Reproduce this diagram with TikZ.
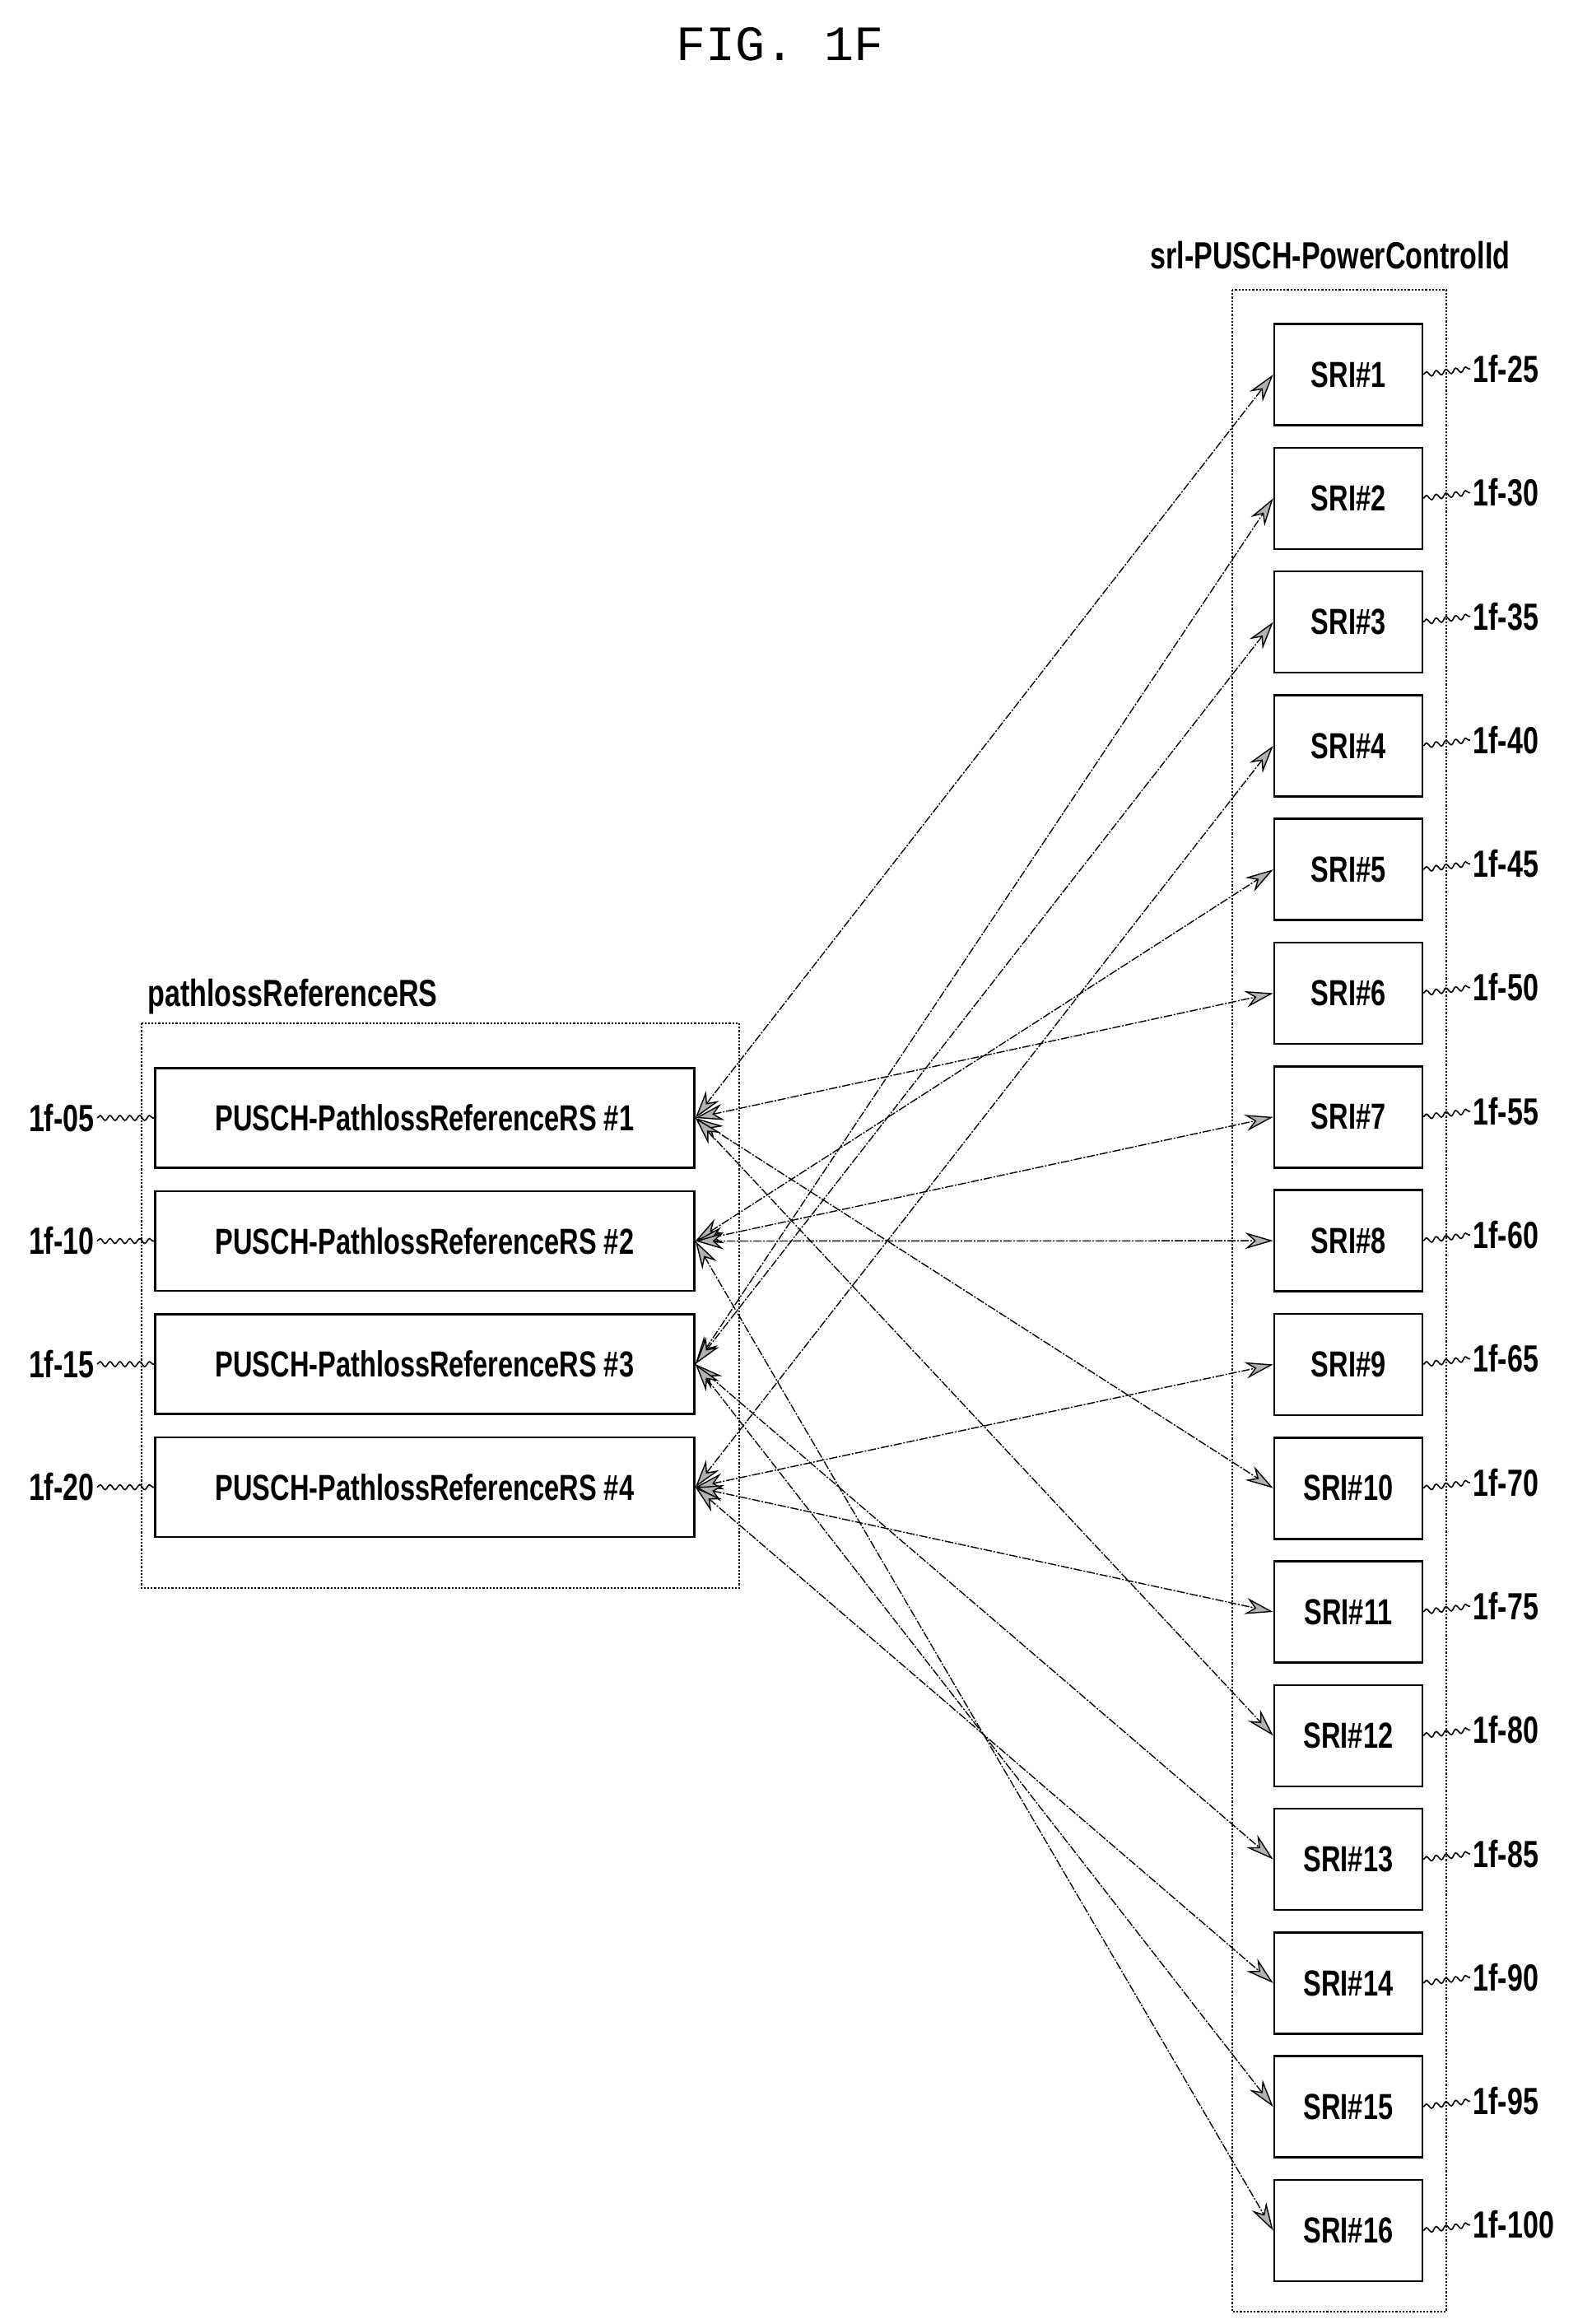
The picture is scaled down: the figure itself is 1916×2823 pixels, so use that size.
\documentclass[tikz,border=0pt]{standalone}
\usepackage{fontspec}
\setmainfont{Liberation Sans}
\newfontfamily\condfont[FakeStretch=0.74]{Liberation Sans}
\newfontfamily\figfont{Liberation Mono}
\usetikzlibrary{positioning, arrows.meta, decorations.pathmorphing}

\begin{document}
\begin{tikzpicture}[x=1pt, y=-1pt,
thin,
block/.style={draw, line width=2.6pt, rectangle, font=\condfont\bfseries\fontsize{44}{44}\selectfont},
frame/.style={draw, line width=2.2pt, dotted, rectangle},
lbl/.style={font=\condfont\bfseries\fontsize{46}{46}\selectfont},
lead/.style={line width=1.6pt, decorate, decoration={snake, amplitude=3pt, segment length=12pt}},
link/.style={<->, line width=1.4pt, dash pattern=on 10pt off 2pt on 2pt off 2pt,
  >={Stealth[length=34pt, width=20pt, fill=gray!60]}}]

\useasboundingbox (0,0) rectangle (1916,2823);

\node[font=\figfont\fontsize{60}{60}\selectfont] (title) at (948,54) {FIG. 1F};

% pathloss reference RS side
\draw[frame] (172,1243) rectangle (898,1929);
\node[lbl, anchor=south west] (plabel) at (176,1236) {pathlossReferenceRS};
\foreach \i/\n in {1/05, 2/10, 3/15, 4/20} {
  \node[block, minimum width=655pt, minimum height=121pt] (R\i) at (516,{1358+149.5*(\i-1)}) {PUSCH-PathlossReferenceRS \#\i};
  \node[lbl, anchor=east] (RL\i) at (118,{1358+149.5*(\i-1)}) {1f-\n};
  \draw[lead] (RL\i.east) -- (R\i.west);
}

% SRI side
\draw[frame] (1497,352) rectangle (1757,2808);
\node[lbl, anchor=south] (slabel) at (1616,330) {srl-PUSCH-PowerControlId};
\foreach \i [evaluate=\i as \n using int(20+5*\i)] in {1,...,16} {
  \node[block, minimum width=180pt, minimum height=123pt] (S\i) at (1638,{455+150.3*(\i-1)}) {SRI\#\i};
  \node[lbl, anchor=west] (SL\i) at (1786,{448+150.3*(\i-1)}) {1f-\n};
  \draw[lead] (S\i.east) -- (SL\i.west);
}

% RS <-> SRI mapping
\foreach \r/\s in {1/1, 1/6, 1/10, 1/12,
                   2/5, 2/7, 2/8, 2/16,
                   3/2, 3/3, 3/13, 3/15,
                   4/4, 4/9, 4/11, 4/14}
  \draw[link] (R\r.east) -- (S\s.west);

\end{tikzpicture}
\end{document}
